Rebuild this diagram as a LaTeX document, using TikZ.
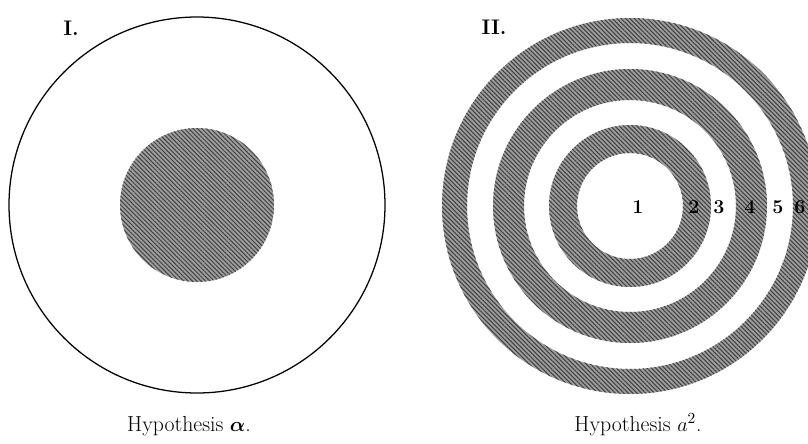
\documentclass[tikz,border=0pt]{standalone}
\usepackage{amsmath,amssymb,xcolor,tikz}
\usetikzlibrary{patterns.meta,positioning,calc}
\tikzset{
  hatch/.style={fill=black!40,pattern={Lines[angle=-45,distance=2.2pt,line width=0.75pt]},pattern color=black!75},
  hatchfill/.style={fill=black!38},
  rim/.style={draw=black,line width=0.9pt},
  numlbl/.style={font=\bfseries\fontsize{14}{15}\selectfont,inner sep=0pt},
  figlbl/.style={font=\bfseries\fontsize{15}{16}\selectfont,inner sep=0pt},
  capt/.style={font=\fontsize{15.5}{17}\selectfont,anchor=base,inner sep=0pt}
}

\begin{document}
\begin{tikzpicture}[x=0.025cm,y=0.025cm]
  \clip (0,0) rectangle (808,443);
  \fill[white] (0,0) rectangle (808,443);
  \coordinate (cI) at (197,238);
  \coordinate (cII) at (630,237);

  % hypothesis alpha
  \draw[rim] (cI) circle (188);
  \fill[hatchfill] (cI) circle (77);
  \fill[hatch] (cI) circle (77);

  % hypothesis a^2
  \foreach \ri/\ro in {53/81,106/137,163/188}{
    \fill[hatchfill,even odd rule] (cII) circle (\ro) (cII) circle (\ri);
    \fill[hatch,even odd rule] (cII) circle (\ro) (cII) circle (\ri);
  }

  \node[figlbl] (figI) at (71,415) {I.};
  \node[figlbl] (figII) at (494,416) {II.};

  \node[numlbl] (n1) at (638,236) {1};
  \node[numlbl] (n2) at (694,236) {2};
  \node[numlbl] (n3) at (719,236) {3};
  \node[numlbl] (n4) at (750,236) {4};
  \node[numlbl] (n5) at (778,236) {5};
  \node[numlbl] (n6) at (800,236) {6};

  \node[capt] (capI) at (189,12) {Hypothesis $\boldsymbol{\alpha}$.};
  \node[capt] (capII) at (638,12) {Hypothesis $a^2$.};
\end{tikzpicture}
\end{document}
